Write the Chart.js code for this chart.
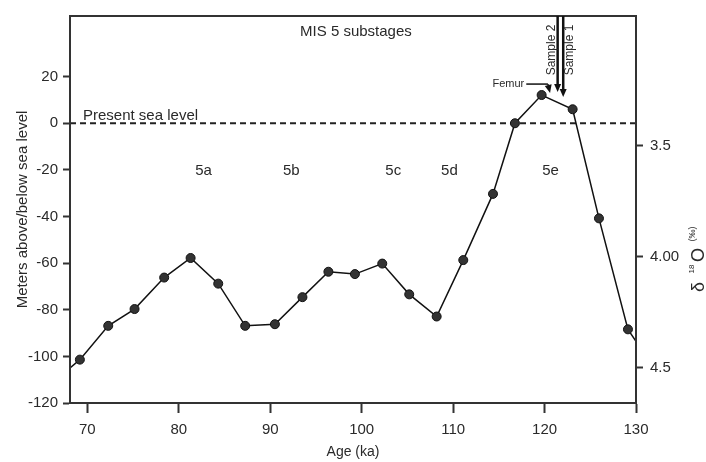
<!DOCTYPE html>
<html>
<head>
<meta charset="utf-8">
<script src="https://cdn.jsdelivr.net/npm/chart.js@4"></script>
<style>
  html, body { margin: 0; padding: 0; background: #fff; }
</style>
</head>
<body>
<canvas id="seaChart" width="706" height="462"></canvas>
<script>
// Sea level curve; first/last entries are where the line leaves the frame
const ages = [68.1, 69.18, 72.28, 75.16, 78.4, 81.29, 84.31, 87.26, 90.51, 93.52, 96.36, 99.26, 102.25, 105.2, 108.2, 111.11, 114.36, 116.76, 119.68, 123.07, 125.95, 129.12, 130];
const seaLevel = [-105, -101.4, -86.9, -79.7, -66.2, -57.8, -68.8, -86.9, -86.2, -74.6, -63.7, -64.7, -60.2, -73.4, -82.9, -58.7, -30.3, 0, 12.1, 6.0, -40.8, -88.4, -93.5];

const ageTicks = [70, 80, 90, 100, 110, 120, 130];
const seaTicks = [-120, -100, -80, -60, -40, -20, 0, 20];
const isoTicks = [3.5, 4.0, 4.5];
const isoTickLabels = ["3.5", "4.00", "4.5"];

const substages = ["5a", "5b", "5c", "5d", "5e"];
const substageAges = [82.7, 92.3, 103.45, 109.6, 120.65];

const FONT = "'Liberation Sans', Arial, sans-serif";
const INK = "#2a2a2a";

function arrow(ctx, x1, y1, x2, y2) {
  const a = Math.atan2(y2 - y1, x2 - x1);
  const len = 8, w = 3.5;
  ctx.beginPath();
  ctx.moveTo(x1, y1);
  ctx.lineTo(x2 - Math.cos(a) * len * 0.6, y2 - Math.sin(a) * len * 0.6);
  ctx.stroke();
  ctx.beginPath();
  ctx.moveTo(x2, y2);
  ctx.lineTo(x2 - Math.cos(a) * len - Math.sin(a) * w, y2 - Math.sin(a) * len + Math.cos(a) * w);
  ctx.lineTo(x2 - Math.cos(a) * len + Math.sin(a) * w, y2 - Math.sin(a) * len - Math.cos(a) * w);
  ctx.closePath();
  ctx.fill();
}

const annotations = {
  id: "annotations",
  beforeDatasetsDraw(chart) {
    const { ctx, chartArea: ca, scales } = chart;
    const y0 = scales.y.getPixelForValue(0);
    ctx.save();
    // present sea level
    ctx.strokeStyle = "#222";
    ctx.lineWidth = 2;
    ctx.setLineDash([6, 4]);
    ctx.beginPath();
    ctx.moveTo(ca.left, y0);
    ctx.lineTo(ca.right, y0);
    ctx.stroke();
    ctx.restore();
  },
  afterDraw(chart) {
    const { ctx, chartArea: ca, scales } = chart;
    const x = scales.x, y = scales.y;
    ctx.save();

    // frame
    ctx.strokeStyle = "#333";
    ctx.lineWidth = 2;
    ctx.strokeRect(ca.left, ca.top, ca.right - ca.left, ca.bottom - ca.top);

    ctx.fillStyle = INK;
    ctx.textBaseline = "alphabetic";
    ctx.textAlign = "left";
    ctx.font = "15px " + FONT;
    ctx.fillText("Present sea level", ca.left + 13, y.getPixelForValue(0) - 3);

    ctx.textAlign = "center";
    ctx.textBaseline = "middle";
    ctx.fillText("MIS 5 substages", x.getPixelForValue(99.37), y.getPixelForValue(39.2));
    substages.forEach((s, i) => {
      ctx.fillText(s, x.getPixelForValue(substageAges[i]), y.getPixelForValue(-20.5));
    });

    // sample arrows
    ctx.strokeStyle = "#111";
    ctx.fillStyle = "#111";
    ctx.lineWidth = 2.5;
    arrow(ctx, x.getPixelForValue(121.43), ca.top, x.getPixelForValue(121.43), y.getPixelForValue(13.4));
    arrow(ctx, x.getPixelForValue(122.04), ca.top, x.getPixelForValue(122.04), y.getPixelForValue(11.3));

    // femur pointer
    ctx.lineWidth = 1.5;
    const fx = x.getPixelForValue(118.0), fy = y.getPixelForValue(16.8);
    ctx.beginPath();
    ctx.moveTo(fx, fy);
    ctx.lineTo(x.getPixelForValue(120.37), fy);
    ctx.stroke();
    arrow(ctx, x.getPixelForValue(120.37), fy, x.getPixelForValue(120.6), y.getPixelForValue(13.0));

    ctx.fillStyle = INK;
    ctx.font = "11px " + FONT;
    ctx.textAlign = "right";
    ctx.fillText("Femur", fx - 2, fy);

    ctx.font = "12px " + FONT;
    ctx.textAlign = "center";
    [["Sample 2", 120.75], ["Sample 1", 122.7]].forEach(([t, a]) => {
      ctx.save();
      ctx.translate(x.getPixelForValue(a), ca.top + 34);
      ctx.rotate(-Math.PI / 2);
      ctx.fillText(t, 0, 0);
      ctx.restore();
    });

    // right axis title: delta 18 O (permil), rotated
    ctx.save();
    ctx.translate(699, 0);
    ctx.rotate(-Math.PI / 2);
    ctx.textBaseline = "middle";
    ctx.textAlign = "center";
    ctx.font = "18px " + FONT;
    ctx.fillText("δ", -287, 0);
    ctx.font = "8px " + FONT;
    ctx.fillText("18", -269, -7);
    ctx.font = "18px " + FONT;
    ctx.fillText("O", -255, 0);
    ctx.font = "9px " + FONT;
    ctx.fillText("(‰)", -234, -6);
    ctx.restore();

    ctx.restore();
  },
};

const tickFont = { family: FONT, size: 15 };
const axisGrid = { drawOnChartArea: false, color: "#333", tickLength: 7, tickWidth: 2 };
const axisBorder = { display: true, color: "#333", width: 2 };

const seaCtx = document.getElementById("seaChart").getContext("2d");
const seaChart = new Chart(seaCtx, {
  type: "line",
  data: {
    datasets: [
      {
        data: ages.map((a, i) => ({ x: a, y: seaLevel[i] })),
        borderColor: "#111",
        borderWidth: 1.5,
        tension: 0,
        pointRadius: (c) => (c.dataIndex === 0 || c.dataIndex === ages.length - 1 ? 0 : 4.5),
        pointBackgroundColor: "#333",
        pointBorderColor: "#111",
        pointBorderWidth: 1,
      },
    ],
  },
  options: {
    responsive: false,
    animation: false,
    layout: { padding: { top: 11, left: 0, right: 0, bottom: 0 } },
    plugins: {
      legend: { display: false },
      tooltip: { enabled: false },
    },
    scales: {
      x: {
        type: "linear",
        min: 68.1,
        max: 130,
        afterBuildTicks: (s) => { s.ticks = ageTicks.map((v) => ({ value: v })); },
        afterFit: (s) => { s.height = 59; },
        grid: { ...axisGrid, tickLength: 10 },
        border: axisBorder,
        ticks: { font: tickFont, color: INK, padding: 8, maxRotation: 0 },
        title: { display: true, text: "Age (ka)", font: { family: FONT, size: 14 }, color: INK, padding: { top: 0, bottom: 1 } },
      },
      y: {
        position: "left",
        min: -120,
        max: 46,
        afterBuildTicks: (s) => { s.ticks = seaTicks.map((v) => ({ value: v })); },
        afterFit: (s) => { s.width = 70; },
        grid: axisGrid,
        border: axisBorder,
        ticks: { font: tickFont, color: INK, padding: 5 },
        title: { display: true, text: "Meters above/below sea level", font: { family: FONT, size: 15 }, color: INK, padding: { top: 14, bottom: 0 } },
      },
      y1: {
        position: "right",
        reverse: true,
        min: 2.916,
        max: 4.659,
        afterBuildTicks: (s) => { s.ticks = isoTicks.map((v) => ({ value: v })); },
        afterFit: (s) => { s.width = 70; },
        grid: axisGrid,
        border: axisBorder,
        ticks: { font: tickFont, color: INK, padding: 7, callback: (v, i) => isoTickLabels[i] },
      },
    },
  },
  plugins: [annotations],
});
</script>
</body>
</html>
